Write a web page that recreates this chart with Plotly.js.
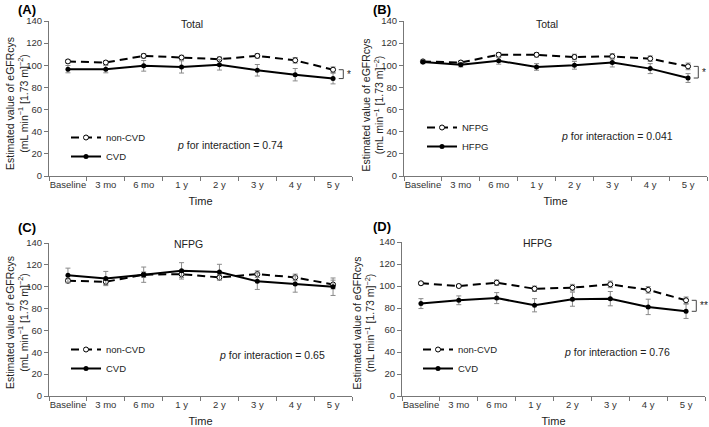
<!DOCTYPE html>
<html><head><meta charset="utf-8">
<script src="https://cdn.plot.ly/plotly-3.0.1.min.js"></script>
<style>html,body{margin:0;padding:0;background:#fff}#chart{width:709px;height:427px}</style>
</head><body><div id="chart"></div>
<script>
// ---- data ----
const timepoints = ['Baseline', '3 mo', '6 mo', '1 y', '2 y', '3 y', '4 y', '5 y'];
const yTickVals = [0, 20, 40, 60, 80, 100, 120, 140];

// (A) Total: non-CVD vs CVD
const aNonCVD = [103.5, 102.5, 108.5, 107, 105.5, 108.5, 104.5, 96];
const aNonCVDErr = [1.5, 1.5, 2, 2, 2, 2, 2.5, 2.5];
const aCVD = [96.5, 96.5, 99.5, 98.5, 100.5, 95.5, 91.5, 88];
const aCVDErr = [3.3, 3.3, 4.8, 5.5, 4.8, 5.2, 5.6, 4.8];

// (B) Total: NFPG vs HFPG
const bNFPG = [103.5, 102.5, 109.5, 109.5, 107.5, 108, 106, 99];
const bNFPGErr = [1, 1.5, 2, 2, 2.5, 2.5, 2.5, 3];
const bHFPG = [103, 100.5, 104, 98.5, 100, 102.5, 97, 88.5];
const bHFPGErr = [1.5, 2, 3, 3, 3.5, 4, 4.5, 4];

// (C) NFPG: non-CVD vs CVD
const cNonCVD = [105.5, 104.5, 111, 111.5, 108.5, 111.5, 108.5, 102];
const cNonCVDErr = [2, 2.5, 2.5, 3, 2.5, 3, 3, 4];
const cCVD = [110.5, 107.5, 111, 114.5, 113.5, 105, 102.5, 100];
const cCVDErr = [6.5, 6.5, 7, 7.5, 7, 7.5, 7.5, 8];

// (D) HFPG: non-CVD vs CVD
const dNonCVD = [102.5, 100, 103, 97.5, 98.5, 101.5, 96.5, 87];
const dNonCVDErr = [1.5, 1.5, 2.5, 2.5, 3, 3, 3, 3];
const dCVD = [84, 87, 89, 82.5, 88, 88.5, 81, 77];
const dCVDErr = [4.5, 4, 5, 6, 6.4, 6.5, 7, 6.5];

const panelLabels = ['(A)', '(B)', '(C)', '(D)'];
const panelTitles = ['Total', 'Total', 'NFPG', 'HFPG'];
const pTexts = ['0.74', '0.041', '0.65', '0.76'];
const groupNames = [['non-CVD', 'CVD'], ['NFPG', 'HFPG'], ['non-CVD', 'CVD'], ['non-CVD', 'CVD']];
const stars = ['*', '*', '', '**'];

// ---- layout geometry (pixels) ----
const W = 709, H = 427;
const FONT = 'Liberation Sans, Arial, sans-serif';
const panels = [
  {ax: '', upper: aNonCVD, upperErr: aNonCVDErr, lower: aCVD, lowerErr: aCVDErr,
   x: [49, 352], y: [21, 176], label: [16, 9], title: [192, 24], p: [230, 145], ytitle: 17, yc: 104, legend: [106, 138]},
  {ax: '2', upper: bNFPG, upperErr: bNFPGErr, lower: bHFPG, lowerErr: bHFPGErr,
   x: [404, 707], y: [21, 176], label: [371, 9], title: [547, 24], p: [617, 136], ytitle: 372.5, yc: 105, legend: [462, 128]},
  {ax: '3', upper: cNonCVD, upperErr: cNonCVDErr, lower: cCVD, lowerErr: cCVDErr,
   x: [49, 352], y: [243, 396], label: [16, 227], title: [189, 244], p: [272, 355], ytitle: 17, yc: 323, legend: [106, 350]},
  {ax: '4', upper: dNonCVD, upperErr: dNonCVDErr, lower: dCVD, lowerErr: dCVDErr,
   x: [402, 705], y: [242, 396], label: [371, 226], title: [537, 243], p: [617, 352], ytitle: 363.5, yc: 323, legend: [458, 350]}
];
const px = v => v / W, py = v => 1 - v / H;

const data = [];
const layout = {
  width: W, height: H,
  margin: {l: 0, r: 0, t: 0, b: 0},
  paper_bgcolor: '#fff', plot_bgcolor: '#fff',
  font: {family: FONT, color: '#222'},
  annotations: [], shapes: []
};

panels.forEach((p, i) => {
  const xa = 'x' + p.ax, ya = 'y' + p.ax;
  const legendId = i === 0 ? 'legend' : 'legend' + (i + 1);
  data.push({
    type: 'scatter', mode: 'lines+markers', x: timepoints, y: p.upper,
    xaxis: xa, yaxis: ya, name: groupNames[i][0], legend: legendId,
    line: {color: '#000', width: 2, dash: '8px,5px'},
    marker: {symbol: 'circle', size: 5, color: '#fff', line: {color: '#000', width: 1}},
    error_y: {type: 'data', array: p.upperErr, color: '#8a8a8a', thickness: 1, width: 2.5}
  });
  data.push({
    type: 'scatter', mode: 'lines+markers', x: timepoints, y: p.lower,
    xaxis: xa, yaxis: ya, name: groupNames[i][1], legend: legendId,
    line: {color: '#000', width: 2},
    marker: {symbol: 'circle', size: 5, color: '#000'},
    error_y: {type: 'data', array: p.lowerErr, color: '#8a8a8a', thickness: 1, width: 2.5}
  });

  const axKey = p.ax;
  layout['xaxis' + axKey] = {
    domain: [px(p.x[0]), px(p.x[1])], anchor: ya,
    type: 'category', categoryorder: 'array', categoryarray: timepoints,
    range: [-0.5, 7.5], tickson: 'boundaries', ticks: 'outside', ticklen: 4,
    tickangle: 0, automargin: false,
    tickcolor: '#777', showline: true, linecolor: '#777', linewidth: 1,
    showgrid: false, zeroline: false, fixedrange: true,
    tickfont: {family: FONT, size: 9.5, color: '#333'},
    title: {text: 'Time', font: {family: FONT, size: 11, color: '#222'}, standoff: 7}
  };
  layout['yaxis' + axKey] = {
    domain: [py(p.y[1]), py(p.y[0])], anchor: xa,
    range: [0, 140], tickvals: yTickVals, ticks: 'outside', ticklen: 4,
    automargin: false,
    tickcolor: '#777', showline: true, linecolor: '#777', linewidth: 1,
    showgrid: false, zeroline: false, fixedrange: true,
    tickfont: {family: FONT, size: 9.5, color: '#333'}
  };

  layout[legendId] = {
    x: px(p.legend[0] - 40), y: py(p.legend[1] - 15), xanchor: 'left', yanchor: 'top',
    bgcolor: 'rgba(0,0,0,0)', borderwidth: 0, itemwidth: 30, tracegroupgap: 0,
    font: {family: FONT, size: 9.5, color: '#222'}
  };

  const ann = layout.annotations;
  ann.push({xref: 'paper', yref: 'paper', x: px(p.label[0]), y: py(p.label[1]),
    xanchor: 'left', yanchor: 'middle', showarrow: false, text: '<b>' + panelLabels[i] + '</b>',
    font: {family: FONT, size: 13, color: '#000'}});
  ann.push({xref: 'paper', yref: 'paper', x: px(p.title[0]), y: py(p.title[1]),
    xanchor: 'center', yanchor: 'middle', showarrow: false, text: panelTitles[i],
    font: {family: FONT, size: 10.5, color: '#222'}});
  ann.push({xref: 'paper', yref: 'paper', x: px(p.p[0]), y: py(p.p[1]),
    xanchor: 'center', yanchor: 'middle', showarrow: false,
    text: '<i>p</i> for interaction = ' + pTexts[i],
    font: {family: FONT, size: 10.5, color: '#222'}});
  ann.push({xref: 'paper', yref: 'paper', x: px(p.ytitle), y: py(p.yc),
    xanchor: 'center', yanchor: 'middle', showarrow: false, textangle: -90,
    text: 'Estimated value of eGFRcys<br>(mL min<sup>\u22121</sup> [1.73 m]<sup>\u22122</sup>)',
    font: {family: FONT, size: 10.5, color: '#222'}});

  if (stars[i]) {
    const last = timepoints.length - 1;
    const yTop = p.upper[last], yBot = p.lower[last];
    const xb = last + 0.27, xt = last + 0.15;
    const sh = {xref: xa, yref: ya, type: 'line', line: {color: '#444', width: 1}};
    layout.shapes.push(Object.assign({}, sh, {x0: xt, x1: xb, y0: yTop, y1: yTop}));
    layout.shapes.push(Object.assign({}, sh, {x0: xb, x1: xb, y0: yTop, y1: yBot}));
    layout.shapes.push(Object.assign({}, sh, {x0: xt, x1: xb, y0: yBot, y1: yBot}));
    ann.push({xref: xa, yref: ya, x: xb, y: (yTop + yBot) / 2, xanchor: 'left', yanchor: 'middle',
      xshift: 2, showarrow: false, text: stars[i], font: {family: FONT, size: 10, color: '#222'}});
  }
});

Plotly.newPlot('chart', data, layout, {displayModeBar: false, staticPlot: true});
</script>
</body></html>
